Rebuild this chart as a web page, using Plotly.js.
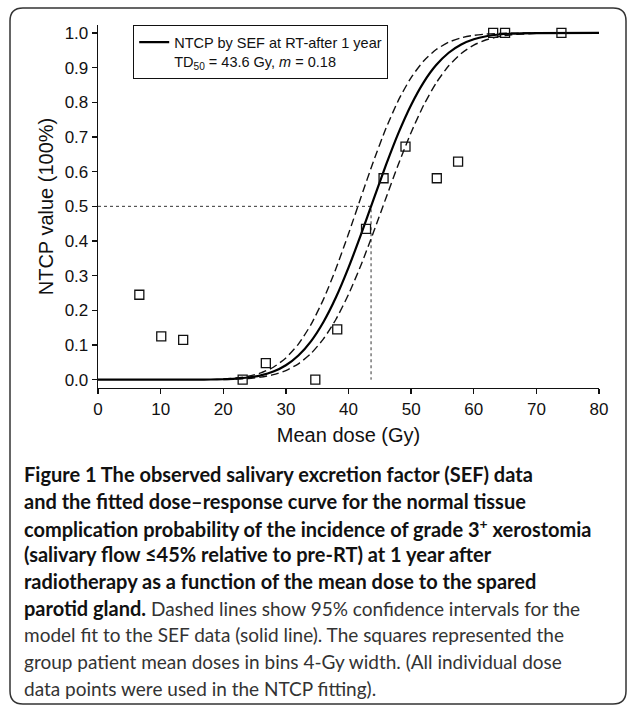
<!DOCTYPE html>
<html>
<head>
<meta charset="utf-8">
<script src="https://cdn.plot.ly/plotly-3.0.1.min.js"></script>
<style>
  html, body { margin: 0; padding: 0; background: #fff; }
  #chart { width: 627px; height: 706px; }
</style>
</head>
<body>
<div id="chart"></div>
<script>
// ---------------- data ----------------
const doseGrid = [0, 10, 16, 18, 20, 22, 24, 26, 28, 30, 32, 34, 36, 38, 40, 42, 44, 46, 48, 50, 52, 54, 56, 58, 60, 62, 64, 66, 70, 80];
const ntcpFit  = [0, 0, 0.0002, 0.0005, 0.0013, 0.003, 0.0063, 0.0125, 0.0234, 0.0416, 0.0697, 0.1107, 0.1665, 0.2377, 0.3232, 0.4192, 0.5203, 0.620, 0.7125, 0.7925, 0.8577, 0.9074, 0.943, 0.9667, 0.9817, 0.9905, 0.9955, 0.998, 0.9996, 1.0];

const ciDose  = [20, 22, 24, 26, 28, 30, 32, 34, 36, 38, 40, 42, 44, 46, 48, 50, 52, 54, 56, 58, 60, 62, 64, 66, 70];
const ciUpper = [0.0021, 0.0047, 0.0098, 0.0194, 0.0359, 0.0626, 0.1026, 0.1587, 0.2317, 0.3204, 0.4207, 0.5266, 0.6306, 0.7257, 0.807, 0.8715, 0.9192, 0.9522, 0.9734, 0.9861, 0.9932, 0.9969, 0.9987, 0.9995, 1.0];
const ciLower = [0.0007, 0.0017, 0.0036, 0.0074, 0.0144, 0.0263, 0.0458, 0.0753, 0.1175, 0.1743, 0.2459, 0.3309, 0.4256, 0.5249, 0.6227, 0.7131, 0.7917, 0.856, 0.9053, 0.9409, 0.965, 0.9804, 0.9896, 0.9948, 0.9989];

const obsDose = [6.6, 10.1, 13.6, 23.1, 26.8, 34.7, 38.2, 42.8, 45.6, 49.1, 54.1, 57.5, 63.1, 65.0, 74.0];
const obsNtcp = [0.245, 0.125, 0.115, 0.0, 0.048, 0.0, 0.145, 0.435, 0.581, 0.672, 0.581, 0.629, 1.0, 1.0, 1.0];

const td50Dose = [0, 43.6, 43.6];
const td50Ntcp = [0.5, 0.5, 0];

const xTicks = [0, 10, 20, 30, 40, 50, 60, 70, 80];
const yTicks = [0, 0.1, 0.2, 0.3, 0.4, 0.5, 0.6, 0.7, 0.8, 0.9, 1.0];
const yTickText = ["0.0", "0.1", "0.2", "0.3", "0.4", "0.5", "0.6", "0.7", "0.8", "0.9", "1.0"];

const legendText = "NTCP by SEF at RT-after 1 year<br>TD<sub>50</sub> = 43.6 Gy, <i>m</i> = 0.18";
const xTitle = "Mean dose (Gy)";
const yTitle = "NTCP value (100%)";

const captionBold = [
  "Figure 1 The observed salivary excretion factor (SEF) data",
  "and the fitted dose–response curve for the normal tissue",
  "complication probability of the incidence of grade 3<sup>+</sup> xerostomia",
  "(salivary flow ≤45% relative to pre-RT) at 1 year after",
  "radiotherapy as a function of the mean dose to the spared",
  "parotid gland."
];
const captionPlain = [
  " Dashed lines show 95% confidence intervals for the",
  "model fit to the SEF data (solid line). The squares represented the",
  "group patient mean doses in bins 4-Gy width. (All individual dose",
  "data points were used in the NTCP fitting)."
];

// ---------------- layout geometry ----------------
const W = 627, H = 706;
const M = { l: 98, r: 28, t: 25, b: 318 };
const PW = W - M.l - M.r, PH = H - M.t - M.b;
const px2x = p => (p - M.l) / PW;
const py2y = p => (H - M.b - p) / PH;

const axisFont = { family: "Liberation Sans, Arial, sans-serif", size: 17, color: "#111" };

const traces = [
  { x: td50Dose, y: td50Ntcp, mode: "lines", showlegend: false, hoverinfo: "skip",
    line: { color: "#333", width: 1, dash: "dot" } },
  { x: ciDose, y: ciUpper, mode: "lines", showlegend: false,
    line: { color: "#111", width: 1.4, dash: "8px,4px", shape: "spline", smoothing: 0.6 } },
  { x: ciDose, y: ciLower, mode: "lines", showlegend: false,
    line: { color: "#111", width: 1.4, dash: "8px,4px", shape: "spline", smoothing: 0.6 } },
  { x: doseGrid, y: ntcpFit, mode: "lines", name: legendText, showlegend: true,
    line: { color: "#000", width: 2.2, shape: "spline", smoothing: 0.6 } },
  { x: obsDose, y: obsNtcp, mode: "markers", showlegend: false,
    marker: { symbol: "square-open", size: 9, color: "#111", line: { width: 1.3, color: "#111" } } }
];

// caption lines: 5 bold, one mixed, 3 plain
const boldSpan = t => '<span style="font-size:20px;font-weight:bold;fill:#111">' + t + '</span>';
const captionLines = [];
for (let i = 0; i < 5; i++) captionLines.push(boldSpan(captionBold[i]));
captionLines.push(boldSpan(captionBold[5]) + captionPlain[0]);
for (let i = 1; i < captionPlain.length; i++) captionLines.push(captionPlain[i]);

const capX = px2x(22);
const capY0 = 474, capStep = 26.8;
const annotations = captionLines.map((t, i) => ({
  text: t, xref: "paper", yref: "paper", x: capX, y: py2y(capY0 + i * capStep),
  xanchor: "left", yanchor: "middle", showarrow: false, align: "left",
  font: { family: "Lato, Noto Sans, sans-serif", size: 19, color: "#333" }
}));

// rounded figure frame
const fx0 = 10, fy0 = 8, fx1 = 626, fy1 = 704, rr = 13;
function P(x, y) { return px2x(x) + "," + py2y(y); }
const framePath =
  "M" + P(fx0 + rr, fy0) + " L" + P(fx1 - rr, fy0) + " Q" + P(fx1, fy0) + " " + P(fx1, fy0 + rr) +
  " L" + P(fx1, fy1 - rr) + " Q" + P(fx1, fy1) + " " + P(fx1 - rr, fy1) +
  " L" + P(fx0 + rr, fy1) + " Q" + P(fx0, fy1) + " " + P(fx0, fy1 - rr) +
  " L" + P(fx0, fy0 + rr) + " Q" + P(fx0, fy0) + " " + P(fx0 + rr, fy0) + " Z";

const layout = {
  width: W, height: H,
  margin: M,
  paper_bgcolor: "#fff", plot_bgcolor: "#fff",
  font: axisFont,
  showlegend: true,
  legend: {
    x: px2x(133), y: py2y(25), xanchor: "left", yanchor: "top",
    bgcolor: "#fff", bordercolor: "#111", borderwidth: 1.2,
    font: { family: "Liberation Sans, Arial, sans-serif", size: 14.5, color: "#111" },
    valign: "top", itemwidth: 30
  },
  xaxis: {
    range: [0, 80], tickmode: "array", tickvals: xTicks,
    ticks: "outside", ticklen: 5, tickwidth: 1.3, tickcolor: "#111",
    showline: true, linecolor: "#111", linewidth: 1.3, showgrid: false, zeroline: false,
    tickfont: axisFont,
    title: { text: xTitle, font: { family: "Liberation Sans, Arial, sans-serif", size: 20, color: "#111" }, standoff: 10 },
    automargin: false, fixedrange: true
  },
  yaxis: {
    range: [-0.024, 1.023], tickmode: "array", tickvals: yTicks, ticktext: yTickText,
    ticks: "outside", ticklen: 5, tickwidth: 1.3, tickcolor: "#111",
    showline: true, linecolor: "#111", linewidth: 1.3, showgrid: false, zeroline: false,
    tickfont: axisFont,
    title: { text: yTitle, font: { family: "Liberation Sans, Arial, sans-serif", size: 20, color: "#111" }, standoff: 5 },
    automargin: false, fixedrange: true
  },
  annotations: annotations,
  shapes: [{ type: "path", xref: "paper", yref: "paper", path: framePath,
             line: { color: "#333", width: 1.5 }, fillcolor: "rgba(0,0,0,0)", layer: "below" }]
};

Plotly.newPlot("chart", traces, layout, { staticPlot: true, displayModeBar: false });
</script>
</body>
</html>
